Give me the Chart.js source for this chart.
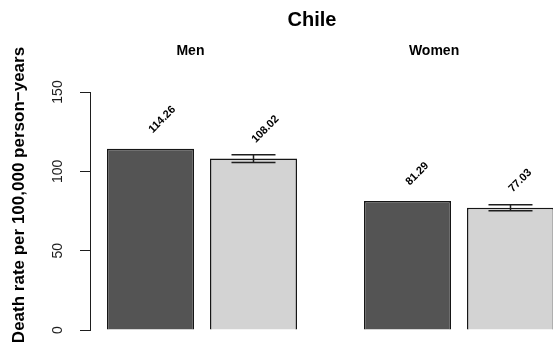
<!DOCTYPE html>
<html>
<head>
<meta charset="utf-8">
<script src="https://cdn.jsdelivr.net/npm/chart.js@4"></script>
<style>
  html, body { margin: 0; padding: 0; background: #fff; overflow: hidden; }
  canvas { display: block; }
</style>
</head>
<body>
<canvas id="c" width="553" height="351"></canvas>
<script>
// Death rates per 100,000 person-years, Chile
const groups = ['Men', 'Women'];
const seriesDark = [114.26, 81.29];
const seriesLight = [108.02, 77.03];
const lightLow = [105.6, 75.1];
const lightHigh = [110.4, 79.0];
const yTicks = [0, 50, 100, 150];

// where the group names sit along the x scale (group centres are 1, 2)
const groupLabelAt = [0.955, 1.903];

const FONT = "'Liberation Sans', Arial, Helvetica, sans-serif";
Chart.defaults.font.family = FONT;

const toPoints = vals => vals.map((v, i) => ({ x: i + 1, y: v }));

const annotate = {
  id: 'annotate',
  afterDatasetsDraw(chart) {
    const ctx = chart.ctx;
    const y = chart.scales.y;
    const meta = chart.getDatasetMeta(1);
    ctx.save();
    ctx.strokeStyle = '#1e1e1e';
    ctx.lineWidth = 1.5;
    meta.data.forEach((bar, i) => {
      const cx = bar.x;
      const yl = y.getPixelForValue(lightLow[i]);
      const yh = y.getPixelForValue(lightHigh[i]);
      ctx.beginPath();
      ctx.moveTo(cx, yl); ctx.lineTo(cx, yh);
      ctx.moveTo(cx - 22, yl); ctx.lineTo(cx + 22, yl);
      ctx.moveTo(cx - 22, yh); ctx.lineTo(cx + 22, yh);
      ctx.stroke();
    });
    ctx.restore();
  },
  afterDraw(chart) {
    const ctx = chart.ctx;
    const xs = chart.scales.x, ys = chart.scales.y;
    ctx.save();
    ctx.fillStyle = '#000';

    // value labels, slanted above each bar
    ctx.font = 'bold 11px ' + FONT;
    ctx.textAlign = 'left';
    ctx.textBaseline = 'middle';
    [seriesDark, seriesLight].forEach((vals, d) => {
      const meta = chart.getDatasetMeta(d);
      meta.data.forEach((bar, i) => {
        ctx.save();
        ctx.translate(bar.x, ys.getPixelForValue(vals[i] + 11));
        ctx.rotate(-Math.PI / 4);
        ctx.fillText(vals[i].toFixed(2), 0, 0);
        ctx.restore();
      });
    });

    // group names
    ctx.font = 'bold 14px ' + FONT;
    ctx.textAlign = 'center';
    groups.forEach((g, i) => {
      ctx.fillText(g, xs.getPixelForValue(groupLabelAt[i]), 51);
    });

    // title
    ctx.font = 'bold 20px ' + FONT;
    ctx.fillText('Chile', 312, 20);

    // y axis title
    ctx.font = 'bold 17px ' + FONT;
    ctx.save();
    ctx.translate(19, 195);
    ctx.rotate(-Math.PI / 2);
    ctx.fillText('Death rate per 100,000 person\u2212years', 0, 0);
    ctx.restore();

    ctx.restore();
  }
};

new Chart(document.getElementById('c'), {
  type: 'bar',
  data: {
    datasets: [
      {
        data: toPoints(seriesDark),
        backgroundColor: '#545454',
        borderColor: '#161616',
        borderWidth: 1.5,
        categoryPercentage: 0.8016,
        barPercentage: 0.845
      },
      {
        data: toPoints(seriesLight),
        backgroundColor: '#d3d3d3',
        borderColor: '#161616',
        borderWidth: 1.5,
        categoryPercentage: 0.8016,
        barPercentage: 0.845
      }
    ]
  },
  options: {
    responsive: false,
    animation: false,
    devicePixelRatio: 1,
    layout: { padding: { top: 92, bottom: 21, left: 0, right: 0 } },
    plugins: {
      legend: { display: false },
      tooltip: { enabled: false },
      title: { display: false }
    },
    scales: {
      x: {
        type: 'linear',
        display: false,
        offset: false,
        min: 0.5642,
        max: 2.3658,
        afterBuildTicks: s => { s.ticks = groups.map((g, i) => ({ value: i + 1 })); }
      },
      y: {
        min: 0,
        max: 150,
        afterBuildTicks: s => { s.ticks = yTicks.map(v => ({ value: v })); },
        ticks: {
          minRotation: 90,
          maxRotation: 90,
          crossAlign: 'center',
          padding: 10,
          color: '#1e1e1e',
          font: { size: 14 }
        },
        grid: {
          drawOnChartArea: false,
          drawTicks: true,
          tickLength: 10,
          color: '#1e1e1e',
          lineWidth: 1
        },
        border: { display: true, color: '#1e1e1e', width: 1 },
        afterFit: s => { s.width = 90; s.paddingTop = 0; s.paddingBottom = 0; }
      }
    }
  },
  plugins: [annotate]
});
</script>
</body>
</html>
